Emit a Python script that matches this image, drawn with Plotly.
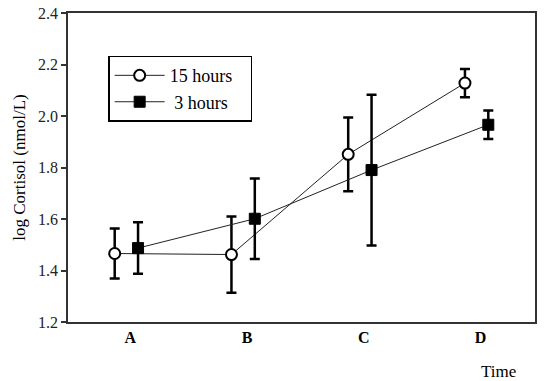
import plotly.graph_objects as go

categories = ["A", "B", "C", "D"]
hours15 = [1.466, 1.462, 1.851, 2.128]
hours15_err = [0.097, 0.148, 0.143, 0.055]
hours3 = [1.487, 1.601, 1.790, 1.966]
hours3_err = [0.100, 0.156, 0.293, 0.055]
y_ticks = [1.2, 1.4, 1.6, 1.8, 2.0, 2.2, 2.4]

serif = "Liberation Serif"
pad = "\u00a0\u00a0\u00a0"

fig = go.Figure()
fig.add_trace(go.Scatter(
    x=categories, y=hours15, name="15 hours" + pad, mode="lines+markers",
    line=dict(color="#222222", width=1),
    marker=dict(symbol="circle", size=11, color="white", line=dict(color="black", width=2)),
    error_y=dict(type="data", array=hours15_err, color="black", thickness=2.5, width=5),
))
fig.add_trace(go.Scatter(
    x=categories, y=hours3, name=" 3 hours" + pad, mode="lines+markers",
    line=dict(color="#222222", width=1),
    marker=dict(symbol="square", size=11, color="black", line=dict(color="black", width=1)),
    error_y=dict(type="data", array=hours3_err, color="black", thickness=2.5, width=5),
))

fig.update_layout(
    width=550, height=381,
    margin=dict(l=68, r=15, t=13, b=59, autoexpand=False),
    paper_bgcolor="white", plot_bgcolor="white",
    scattermode="group", scattergap=0.6,
    font=dict(family=serif, color="black", size=15),
    showlegend=True,
    legend=dict(
        x=0.086, y=0.862, xanchor="left", yanchor="top",
        bordercolor="black", borderwidth=1.5, bgcolor="white",
        font=dict(family=serif, size=18, color="black"),
        itemwidth=50, tracegroupgap=0,
    ),
    xaxis=dict(
        type="category", range=[-0.5, 3.5], automargin=False,
        showline=True, linecolor="#333333", linewidth=1.5, mirror=True,
        ticks="", showgrid=False, zeroline=False, ticklabelshift=4,
        tickfont=dict(family=serif, size=16, color="black", weight="bold"),
    ),
    yaxis=dict(
        range=[1.2, 2.4], tickvals=y_ticks, tickformat=".1f", automargin=False,
        showline=True, linecolor="#333333", linewidth=1.5, mirror=True,
        ticks="outside", ticklen=5, tickwidth=1.5, tickcolor="#333333",
        showgrid=False, zeroline=False,
        tickfont=dict(family=serif, size=16, color="#222222"),
        title=dict(text="log Cortisol (nmol/L)", font=dict(family=serif, size=17, color="black"), standoff=8),
    ),
    annotations=[dict(
        text="Time", xref="paper", yref="paper", x=0.921, y=-0.159,
        xanchor="center", yanchor="middle", showarrow=False,
        font=dict(family=serif, size=17, color="black"),
    )],
)

fig.write_html("out.html", config={"displayModeBar": False},
               post_script="document.body.style.margin='0';")
